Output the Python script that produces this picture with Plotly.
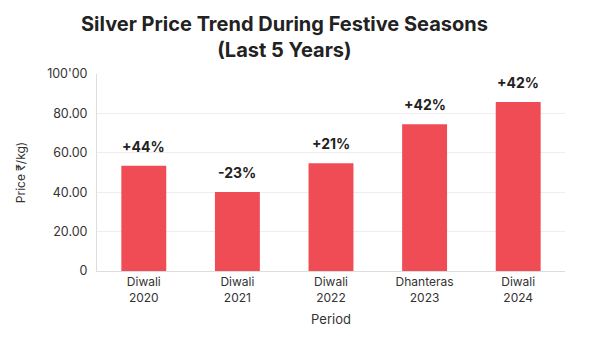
import plotly.graph_objects as go

periods = ["Diwali<br>2020", "Diwali<br>2021", "Diwali<br>2022", "Dhanteras<br>2023", "Diwali<br>2024"]
prices = [53.4, 40.1, 54.7, 74.5, 85.8]
changes = ["+44%", "-23%", "+21%", "+42%", "+42%"]
tick_vals = [0, 20, 40, 60, 80, 100]
tick_text = ["0", "20.00", "40.00", "60.00", "80.00", "100'00"]

fig = go.Figure()
fig.add_trace(go.Bar(x=periods, y=prices, marker=dict(color="#F04C55", line=dict(width=0)), width=0.48))

for p, v, c in zip(periods, prices, changes):
    fig.add_annotation(x=p, y=v, text="<b>" + c + "</b>", showarrow=False, yanchor="bottom", yshift=9,
                       font=dict(family="Inter, Roboto, sans-serif", size=14, color="#222222"))

fig.add_annotation(xref="paper", yref="paper", x=0.40, y=1.0, yshift=10, xanchor="center", yanchor="bottom",
                   text="<b>Silver Price Trend During Festive Seasons<br>(Last 5 Years)</b>", showarrow=False,
                   font=dict(family="Inter, Roboto, sans-serif", size=20, color="#222222"))

fig.update_layout(
    width=600, height=338,
    margin=dict(l=97, r=35, t=74, b=67),
    paper_bgcolor="white", plot_bgcolor="white",
    showlegend=False,
    bargap=0.5,
)
fig.update_xaxes(showline=True, linecolor="#dddddd", linewidth=1, ticks="", showgrid=False,
                 tickfont=dict(family="Inter, Roboto, sans-serif", size=12, color="#333333"),
                 title=dict(text="Period", font=dict(family="Inter, Roboto, sans-serif", size=13, color="#333333"), standoff=10))
fig.update_yaxes(range=[0, 100], tickvals=tick_vals, ticktext=tick_text, showgrid=True, gridcolor="#eeeeee",
                 showline=True, linecolor="#dddddd", linewidth=1, zeroline=False, ticks="", ticklen=0,
                 ticklabelstandoff=6,
                 tickfont=dict(family="Inter, Roboto, sans-serif", size=12.5, color="#333333"),
                 title=dict(text="Price ₹/kg)", font=dict(family="Inter, Roboto, sans-serif", size=12, color="#333333"), standoff=18))

fig.write_html("out.html")
